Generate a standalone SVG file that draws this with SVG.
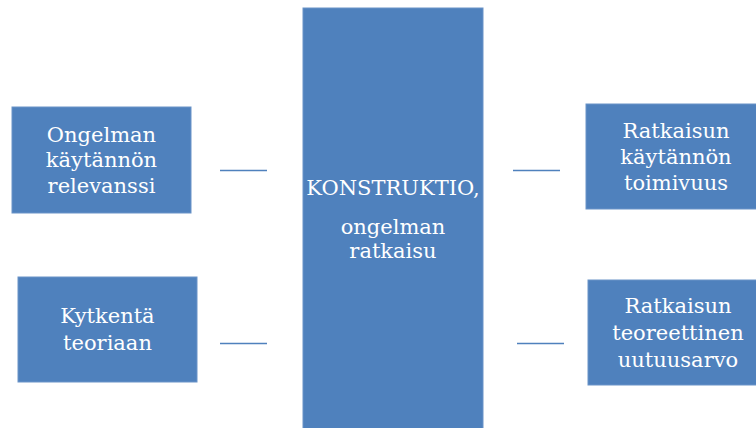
<svg xmlns="http://www.w3.org/2000/svg" width="756" height="428" viewBox="0 0 756 428">
  <style>
    .box { fill: #4F81BD; stroke: #6A93C8; stroke-width: 1; }
    .lbl { font-family: "DejaVu Serif", "Liberation Serif", serif; font-size: 21px; fill: #FFFFFF; text-anchor: middle; }
    .link { stroke: #4F81BD; stroke-width: 1.6; fill: none; }
  </style>
  <rect x="0" y="0" width="756" height="428" fill="#FFFFFF"/>

  <g id="connectors">
    <line class="link" x1="220" y1="170.5" x2="267" y2="170.5"/>
    <line class="link" x1="220" y1="343.5" x2="267" y2="343.5"/>
    <line class="link" x1="513" y1="170.5" x2="560" y2="170.5"/>
    <line class="link" x1="517" y1="343.5" x2="564" y2="343.5"/>
  </g>

  <g id="relevance">
    <rect class="box" x="12" y="107" width="179" height="106"/>
    <text class="lbl"><tspan x="101.5" y="141.5">Ongelman</tspan><tspan x="101.5" y="167">käytännön</tspan><tspan x="101.5" y="193">relevanssi</tspan></text>
  </g>

  <g id="theory-link">
    <rect class="box" x="18" y="277" width="179" height="105"/>
    <text class="lbl"><tspan x="107.5" y="323">Kytkentä</tspan><tspan x="107.5" y="350">teoriaan</tspan></text>
  </g>

  <g id="construct">
    <rect class="box" x="303" y="8" width="180" height="430"/>
    <text class="lbl"><tspan x="393" y="195">KONSTRUKTIO,</tspan><tspan x="393" y="234">ongelman</tspan><tspan x="393" y="258">ratkaisu</tspan></text>
  </g>

  <g id="practical-function">
    <rect class="box" x="586" y="104" width="180" height="105"/>
    <text class="lbl"><tspan x="676" y="137.5">Ratkaisun</tspan><tspan x="676" y="164">käytännön</tspan><tspan x="676" y="190">toimivuus</tspan></text>
  </g>

  <g id="novelty">
    <rect class="box" x="588" y="280" width="180" height="105"/>
    <text class="lbl"><tspan x="678" y="312.5">Ratkaisun</tspan><tspan x="678" y="340">teoreettinen</tspan><tspan x="678" y="366.5">uutuusarvo</tspan></text>
  </g>
</svg>
